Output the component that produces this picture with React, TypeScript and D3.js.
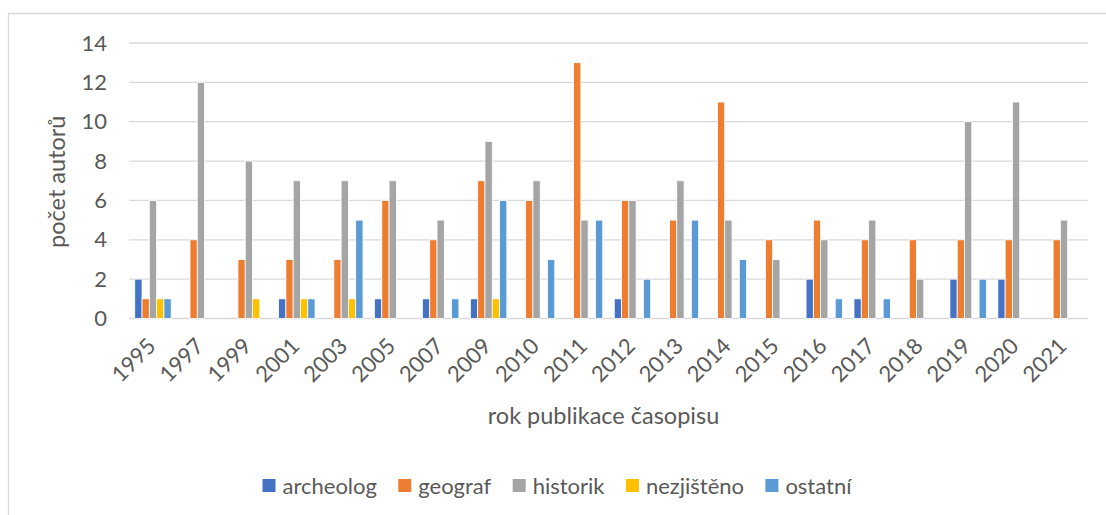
import React, { useEffect, useRef } from "react";
import * as d3 from "d3";

const years = ["1995","1997","1999","2001","2003","2005","2007","2009","2010","2011","2012","2013","2014","2015","2016","2017","2018","2019","2020","2021"];
const seriesNames = ["archeolog", "geograf", "historik", "nezjištěno", "ostatní"];
const archeolog = [2,0,0,1,0,1,1,1,0,0,1,0,0,0,2,1,0,2,2,0];
const geograf =   [1,4,3,3,3,6,4,7,6,13,6,5,11,4,5,4,4,4,4,4];
const historik =  [6,12,8,7,7,7,5,9,7,5,6,7,5,3,4,5,2,10,11,5];
const nezjisteno =[1,0,1,1,1,0,0,1,0,0,0,0,0,0,0,0,0,0,0,0];
const ostatni =   [1,0,0,1,5,0,1,6,3,5,2,5,3,0,1,1,0,2,0,0];
const yTicks = [0,2,4,6,8,10,12,14];
const colors = ["#4472C4", "#ED7D31", "#A5A5A5", "#FFC000", "#5B9BD5"];
const yTitle = "počet autorů";
const xTitle = "rok publikace časopisu";

const W = 1106, H = 515;
const FONT = "Lato, 'Open Sans', sans-serif";
const TEXT = "#595959";

export default function App() {
  const ref = useRef<SVGSVGElement>(null);
  useEffect(() => {
    const svg = d3.select(ref.current);
    svg.selectAll("*").remove();
    const data = [archeolog, geograf, historik, nezjisteno, ostatni];
    const left = 129, right = 1088, top = 43, bottom = 318.5;

    // frame
    svg.append("path").attr("d", `M8.5,${H} V13.5 H${W}`).attr("fill", "none").attr("stroke", "#d9d9d9").attr("stroke-width", 1.3);

    const x = d3.scaleBand<string>().domain(years).range([left, right]).paddingInner(0).paddingOuter(0);
    const bw = x.bandwidth();
    const slot = bw / (5 + 1.58);
    const inner = d3.scaleBand<string>().domain(seriesNames).range([bw / 2 - 2.5 * slot, bw / 2 + 2.5 * slot]).padding(0);
    const y = d3.scaleLinear().domain([0, 14]).range([bottom, top]);

    // grid
    svg.append("g").selectAll("line").data(yTicks).join("line")
      .attr("x1", left).attr("x2", right)
      .attr("y1", d => y(d)).attr("y2", d => y(d))
      .attr("stroke", "#d9d9d9").attr("stroke-width", 1.3);

    // y tick labels
    svg.append("g").selectAll("text").data(yTicks).join("text")
      .attr("x", 107).attr("y", d => y(d)).attr("dy", "0.35em")
      .attr("text-anchor", "end").attr("font-family", FONT).attr("font-size", 22).attr("fill", TEXT)
      .text(d => String(d));

    // bars
    const g = svg.append("g");
    seriesNames.forEach((s, si) => {
      g.append("g").selectAll("rect").data(data[si].map((v, i) => ({ v, year: years[i] })).filter(d => d.v > 0)).join("rect")
        .attr("x", d => (x(d.year) as number) + (inner(s) as number))
        .attr("width", inner.bandwidth())
        .attr("y", d => y(d.v))
        .attr("height", d => y(0) - y(d.v))
        .attr("fill", colors[si])
        .attr("stroke", "#ffffff").attr("stroke-width", 0.8);
    });

    // x tick labels
    svg.append("g").selectAll("text").data(years).join("text")
      .attr("transform", d => `translate(${(x(d) as number) + bw / 2 + 4},${bottom + 29}) rotate(-45)`)
      .attr("text-anchor", "end").attr("font-family", FONT).attr("font-size", 22).attr("fill", TEXT)
      .text(d => d);

    // axis titles
    svg.append("text").attr("x", (left + right) / 2 - 5).attr("y", 424)
      .attr("text-anchor", "middle").attr("font-family", FONT).attr("font-size", 23.5).attr("fill", TEXT)
      .text(xTitle);
    svg.append("text").attr("transform", `translate(65,${(top + bottom) / 2 + 1}) rotate(-90)`)
      .attr("text-anchor", "middle").attr("font-family", FONT).attr("font-size", 23.5).attr("fill", TEXT)
      .text(yTitle);

    // legend
    const lg = svg.append("g");
    const items = seriesNames.map((s, i) => {
      const it = lg.append("g");
      it.append("rect").attr("x", 0).attr("y", -7).attr("width", 13).attr("height", 13).attr("fill", colors[i]);
      const t = it.append("text").attr("x", 20).attr("y", 0).attr("dy", "0.35em")
        .attr("font-family", FONT).attr("font-size", 22).attr("fill", TEXT).text(s);
      const w = 20 + (t.node() as SVGTextElement).getComputedTextLength();
      return { it, w };
    });
    const total0 = d3.sum(items, d => d.w);
    const gap = Math.max(16, (589 - total0) / (items.length - 1));
    const total = total0 + gap * (items.length - 1);
    let cx = (8 + W) / 2 - total / 2;
    items.forEach(d => { d.it.attr("transform", `translate(${cx},486)`); cx += d.w + gap; });
  }, []);
  return (
    <svg ref={ref} width={W} height={H} style={{ position: "absolute", left: 0, top: 0, background: "#fff" }} />
  );
}
